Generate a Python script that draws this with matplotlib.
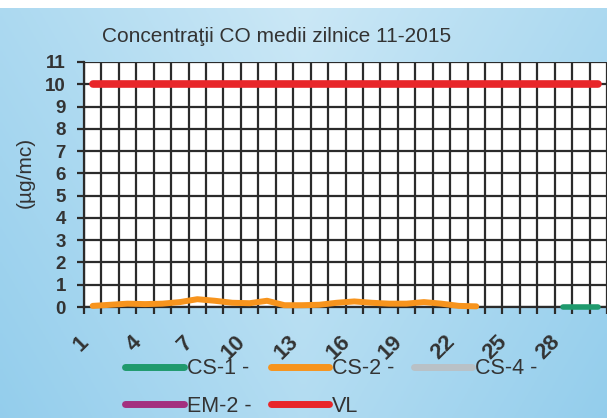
import matplotlib
matplotlib.use('Agg')
import matplotlib.pyplot as plt
import matplotlib.transforms as mtransforms
from matplotlib.ticker import FixedLocator
import numpy as np

plt.rcParams['font.family'] = ['Liberation Sans', 'DejaVu Sans']

# Zilele lunii noiembrie 2015
zile = list(range(1, 31))

# Concentratii CO (ug/mc)
nan = np.nan
cs1 = [nan] * 27 + [0.0, 0.0, 0.0]
cs2 = [0.05, 0.1, 0.15, 0.13, 0.15, 0.22, 0.35, 0.28, 0.19, 0.17,
       0.28, 0.08, 0.08, 0.1, 0.19, 0.25, 0.19, 0.15, 0.15, 0.22,
       0.15, 0.05, 0.03] + [nan] * 7
cs4 = [nan] * 30
em2 = [nan] * 30
vl = [10] * 30

titlu = 'Concentraţii CO medii zilnice 11-2015'
etichete_x = [str(z) for z in range(1, 31, 3)]

fig = plt.figure(figsize=(6.07, 4.18), dpi=100)
fig.patch.set_facecolor('white')

# fundal albastru cu gradient
bg = fig.add_axes([0, 0, 1, 1 - 8 / 418])
bg.set_axis_off()
gx = np.linspace(0, 1, 200)
gy = np.linspace(0, 1, 150)
X, Y = np.meshgrid(gx, gy)
t = np.clip(0.55 * (1 - np.abs(X - 0.5) * 1.6) + 0.35 * Y, 0, 1)
c1 = np.array([0x8c, 0xca, 0xeb]) / 255
c2 = np.array([0xd2, 0xeb, 0xf7]) / 255
img = c1[None, None, :] * (1 - t[..., None]) + c2[None, None, :] * t[..., None]
bg.imshow(img, aspect='auto', origin='lower', extent=[0, 1, 0, 1])

ax = fig.add_axes([84 / 607, 1 - 307 / 418, 1 - 84 / 607, 245 / 418])
ax.set_facecolor('white')

stil = dict(solid_capstyle='round', clip_on=False, zorder=3)
l_cs1, = ax.plot(zile, cs1, color='#1f9a6d', lw=4, **stil)
l_cs2, = ax.plot(zile, cs2, color='#f7941d', lw=4.3, **stil)
l_cs4, = ax.plot(zile, cs4, color='#b9c1c6', lw=4, **stil)
l_em2, = ax.plot(zile, em2, color='#a3307f', lw=4, **stil)
l_vl, = ax.plot(zile, vl, color='#e8262a', lw=5.5, **stil)

ax.set_xlim(0.5, 30.5)
ax.set_ylim(0, 11)
ax.set_yticks(range(0, 12))

# linii verticale intre zile
ax.xaxis.set_minor_locator(FixedLocator(np.arange(0.5, 31, 1)))
ax.xaxis.set_major_locator(FixedLocator(range(1, 31, 3)))
ax.set_xticklabels(etichete_x)
ax.grid(True, which='minor', axis='x', color='#2b2b2b', lw=1.6)
ax.grid(True, which='major', axis='y', color='#2b2b2b', lw=1.6)
ax.set_axisbelow(True)
ax.tick_params(axis='x', which='major', length=0, pad=23)
ax.tick_params(axis='x', which='minor', length=5, width=1.6, color='#2b2b2b')
ax.tick_params(axis='y', length=5, width=1.6, color='#2b2b2b', pad=8)

for s in ['top', 'right']:
    ax.spines[s].set_visible(False)
for s in ['left', 'bottom']:
    ax.spines[s].set_color('#2b2b2b')
    ax.spines[s].set_linewidth(1.6)

offset = mtransforms.ScaledTranslation(-7 / 100, 0, fig.dpi_scale_trans)
for lab in ax.get_xticklabels():
    lab.set_rotation(45)
    lab.set_rotation_mode('anchor')
    lab.set_ha('right')
    lab.set_va('center')
    lab.set_fontsize(16)
    lab.set_fontweight('bold')
    lab.set_color('#333333')
    lab.set_transform(lab.get_transform() + offset)
for lab in ax.get_yticklabels():
    lab.set_fontsize(13.5)
    lab.set_fontweight('bold')
    lab.set_color('#333333')

ax.set_ylabel('(µg/mc)', fontsize=15, color='#333333')
ax.yaxis.set_label_coords(-0.095, 0.55)

fig.text(0.455, 1 - 36 / 418, titlu, ha='center', va='center',
         fontsize=15, color='#333333')

handles = [l_cs1, l_em2, l_cs2, l_vl, l_cs4]
labels = ['CS-1 -', 'EM-2 -', 'CS-2 -', 'VL', 'CS-4 -']
leg = fig.legend(handles, labels, ncol=3, loc='upper left',
                 bbox_to_anchor=(106 / 607, 1 - 339 / 418), frameon=False,
                 fontsize=15.5, handlelength=2.7, handletextpad=0.15,
                 columnspacing=0.9, labelspacing=0.75)
for txt in leg.get_texts():
    txt.set_color('#333333')
for ln in leg.get_lines():
    ln.set_linewidth(5)

fig.savefig('out.png', dpi=100)
